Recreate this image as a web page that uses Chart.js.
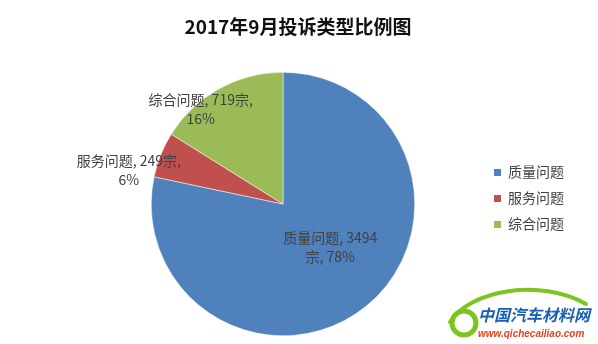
<!DOCTYPE html>
<html>
<head>
<meta charset="utf-8">
<script src="https://cdn.jsdelivr.net/npm/chart.js@4"></script>
<style>
  html, body { margin: 0; padding: 0; background: #fff; }
  #wrap { position: relative; width: 598px; height: 344px; overflow: hidden; }
  #legend { position: absolute; left: 494px; top: 161px; font: 14px "Noto Sans CJK SC", sans-serif; color: #404040; }
  #legend div { height: 26px; line-height: 20px; white-space: nowrap; }
  #legend span { display: inline-block; width: 7px; height: 7px; margin-right: 7px; vertical-align: 1px; }
  #mark { position: absolute; left: 430px; top: 278px; }
</style>
</head>
<body>
<div id="wrap">
  <canvas id="pieChart" width="598" height="344"></canvas>
  <div id="legend"></div>
  <svg id="mark" width="168" height="66" viewBox="0 0 168 66">
    <path d="M20 44 C 40 12, 110 0, 156 26" fill="none" stroke="#7cc520" stroke-width="4" stroke-linecap="round"/>
    <circle cx="34" cy="45" r="12" fill="none" stroke="#7cc520" stroke-width="5"/>
    <text x="48" y="43" font-family="Noto Sans CJK SC" font-weight="bold" font-style="italic" font-size="16" fill="#1a5fb4">中国汽车材料网</text>
    <text x="48" y="59" font-family="Liberation Sans" font-weight="bold" font-style="italic" font-size="10" fill="#e8401c">www.qichecailiao.com</text>
  </svg>
</div>
<script>
// chart values
const title = '2017年9月投诉类型比例图';
const categories = ['质量问题', '服务问题', '综合问题'];
const counts = [3494, 249, 719];
const percents = [78, 6, 16];
const colors = ['#4f81bd', '#c0504d', '#9bbb59'];

// label placement: radial factor + nudge per slice
const labelPos = [
  { f: 0.40, dx: 14, dy: 2, lines: i => [`${categories[i]}, ${counts[i]}`, `宗, ${percents[i]}%`] },
  { f: 1.00, dx: -32, dy: 15, lines: i => [`${categories[i]}, ${counts[i]}宗,`, `${percents[i]}%`] },
  { f: 0.85, dx: -28, dy: 3, lines: i => [`${categories[i]}, ${counts[i]}宗,`, `${percents[i]}%`] }
];

// simple html legend
const legendEl = document.getElementById('legend');
categories.forEach((c, i) => {
  legendEl.innerHTML += `<div><span style="background:${colors[i]}"></span>${c}</div>`;
});

// draws title and slice labels
const labelPlugin = {
  id: 'labelPlugin',
  afterDraw(chart) {
    const ctx = chart.ctx;
    ctx.save();
    ctx.fillStyle = '#111';
    ctx.font = 'bold 19px "Noto Sans CJK SC", sans-serif';
    ctx.textAlign = 'center';
    ctx.textBaseline = 'middle';
    ctx.fillText(title, 298, 27);

    ctx.font = '14px "Noto Sans CJK SC", sans-serif';
    ctx.fillStyle = '#404040';
    const meta = chart.getDatasetMeta(0);
    meta.data.forEach((arc, i) => {
      const p = arc.getProps(['x', 'y', 'startAngle', 'endAngle', 'outerRadius'], true);
      const mid = (p.startAngle + p.endAngle) / 2;
      const cfg = labelPos[i];
      const x = p.x + Math.cos(mid) * p.outerRadius * cfg.f + cfg.dx;
      const y = p.y + Math.sin(mid) * p.outerRadius * cfg.f + cfg.dy;
      const lines = cfg.lines(i);
      lines.forEach((t, k) => ctx.fillText(t, x, y + (k - (lines.length - 1) / 2) * 19));
    });
    ctx.restore();
  }
};

new Chart(document.getElementById('pieChart'), {
  type: 'pie',
  data: {
    labels: categories,
    datasets: [{
      data: counts,
      backgroundColor: colors,
      borderColor: '#ffffff',
      borderWidth: 0.5
    }]
  },
  options: {
    responsive: false,
    animation: false,
    layout: { padding: { top: 72, bottom: 8, left: 151, right: 183 } },
    plugins: {
      legend: { display: false },
      tooltip: { enabled: false }
    }
  },
  plugins: [labelPlugin]
});
</script>
</body>
</html>
